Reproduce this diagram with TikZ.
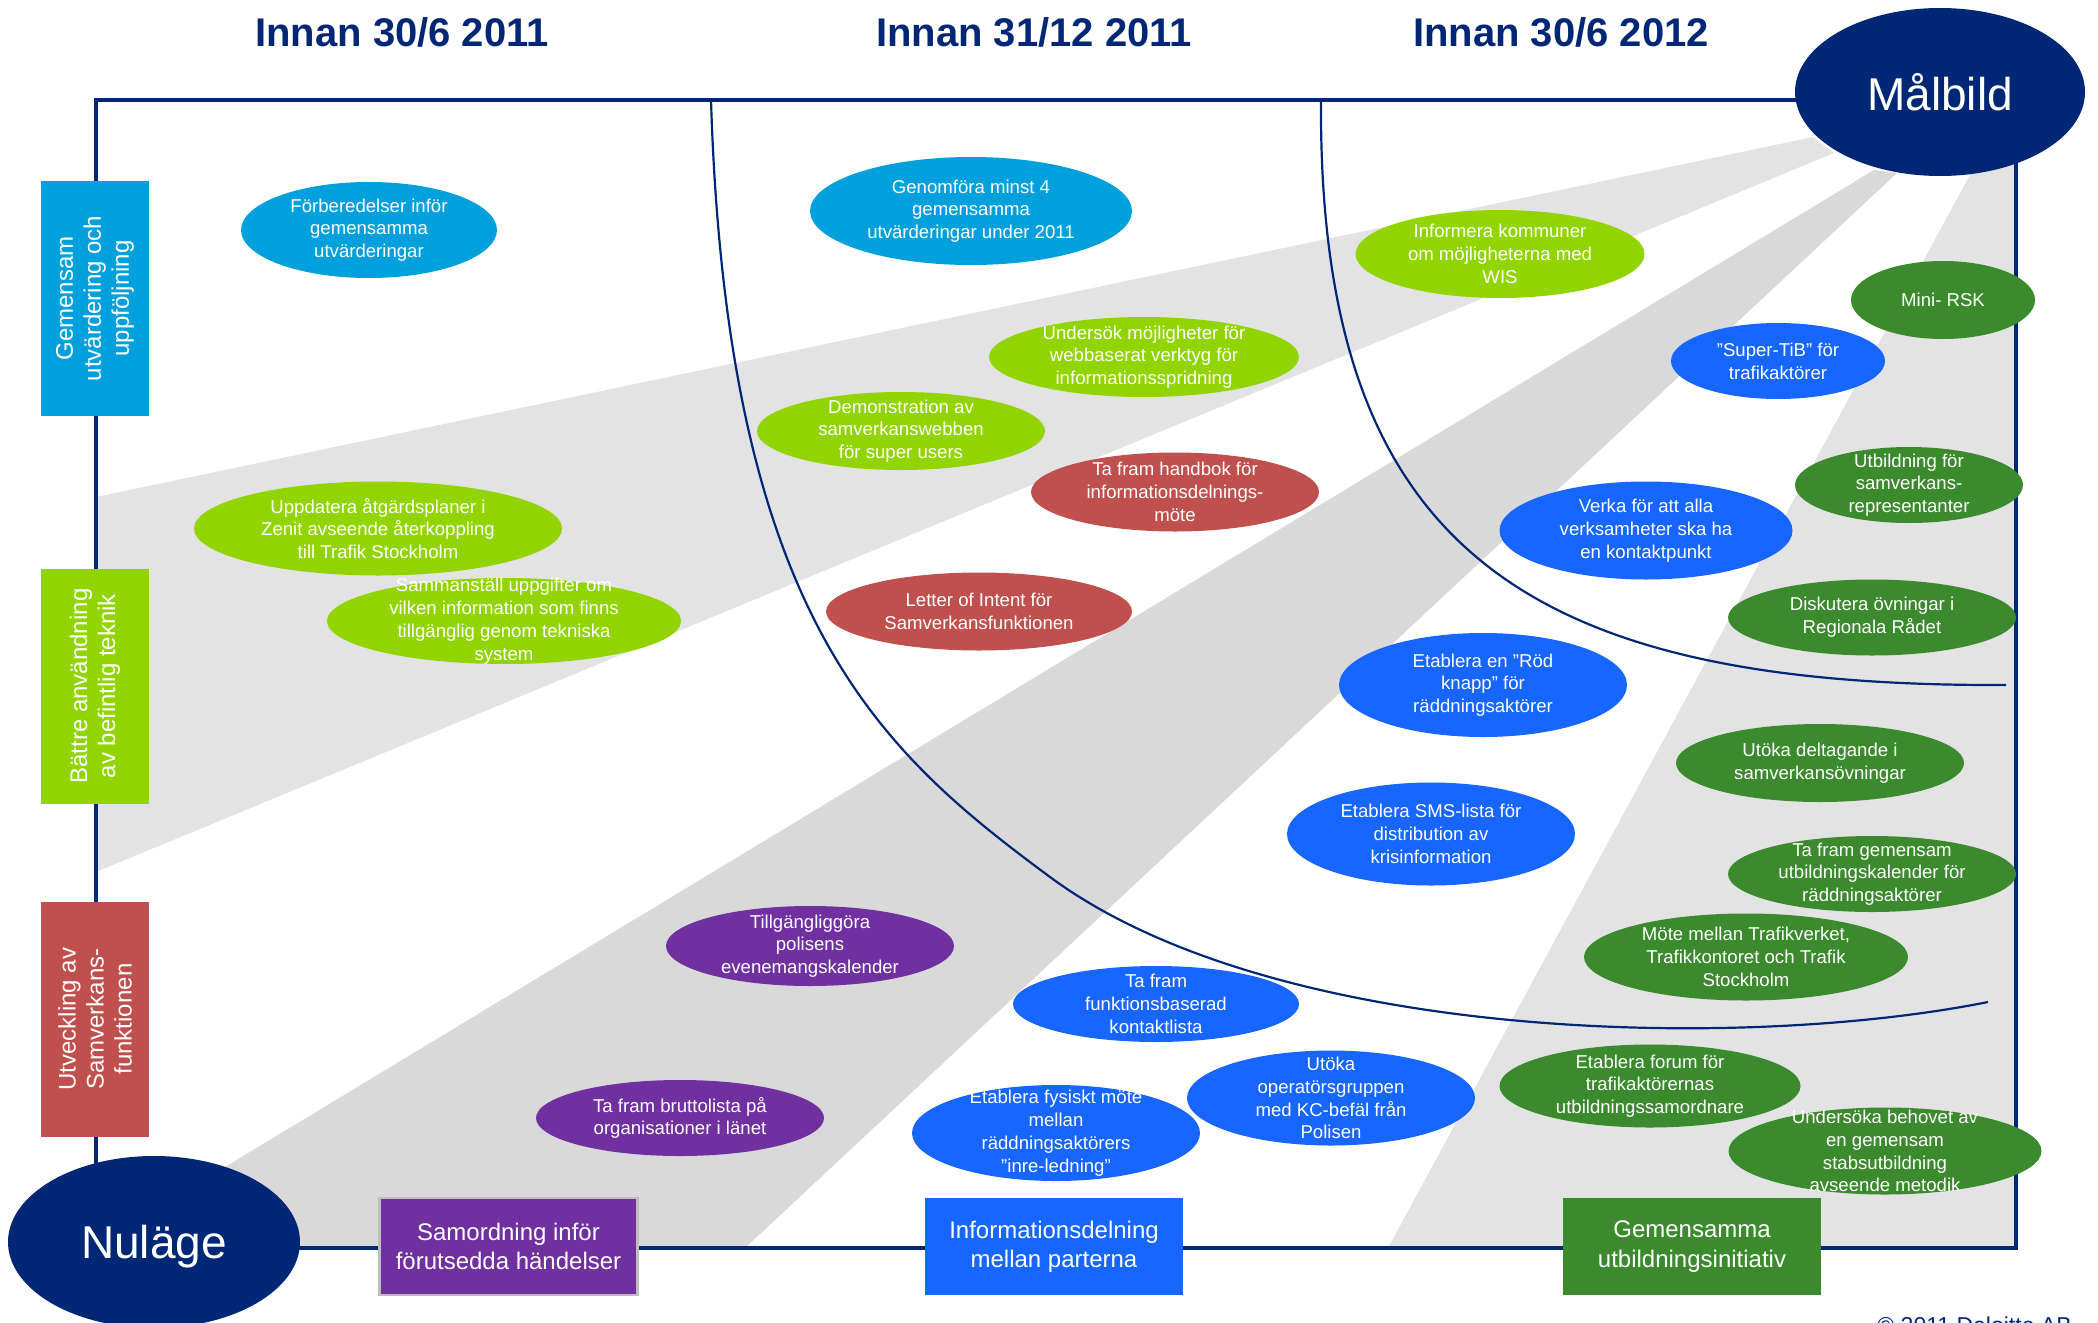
\documentclass[tikz,border=0pt]{standalone}
\usepackage{fontspec}
\setmainfont{Liberation Sans}
\usetikzlibrary{shapes.geometric}
\definecolor{navy}{RGB}{0,39,118}
\definecolor{cyanb}{RGB}{0,160,220}
\definecolor{limeg}{RGB}{146,212,0}
\definecolor{dgreen}{RGB}{60,138,46}
\definecolor{redc}{RGB}{192,80,77}
\definecolor{purp}{RGB}{112,48,160}
\definecolor{bblue}{RGB}{22,102,255}
\definecolor{bandA}{RGB}{227,227,227}
\definecolor{bandB}{RGB}{217,217,217}
\definecolor{boxedge}{RGB}{190,190,190}
\tikzset{
  oval/.style={ellipse, inner sep=0pt, draw=none},
  otext/.style={text=white, align=center, inner sep=0pt, font=\fontsize{9.3}{11.4}\selectfont},
  catbox/.style={rectangle, inner sep=0pt, text=white, align=center, font=\fontsize{12}{14.6}\selectfont},
  sidebox/.style={catbox, rotate=90, minimum width=117.5pt, minimum height=54pt, font=\fontsize{12}{14}\selectfont},
  bottombox/.style={catbox, minimum width=129pt, minimum height=48.5pt},
  titletext/.style={text=navy, inner sep=0pt, font=\bfseries\fontsize{20}{24}\selectfont},
  bigoval/.style={ellipse, inner sep=0pt, fill=navy, text=white, font=\fontsize{23}{27}\selectfont},
  frame/.style={draw=navy, line width=2.2pt},
  arcline/.style={draw=navy, line width=1.1pt},
}
\newcommand\ovalnode[7]{%
  \node[oval, fill=#6, minimum width=#4pt, minimum height=#5pt] (#1) at (#2,#3) {};
  \node[otext] at (#1.center) {#7};}
\begin{document}
\begin{tikzpicture}[x=0.5pt, y=-0.5pt]
\useasboundingbox (0,0) rectangle (2098,1322);
% bands
\fill[bandA] (1813,137) -- (96,497) -- (96,872) -- (1834,153) -- cycle;
\fill[bandB] (1874,170) -- (91,1248) -- (745,1248) -- (1897,173) -- cycle;
\fill[bandA] (1971,173) -- (1388,1248) -- (2016,1248) -- (2016,150) -- cycle;
% frame
\draw[frame] (96,100) rectangle (2016,1248);
% arcs
\draw[arcline] (711,100) .. controls (727,620) and (881,752) .. (1050,877)
  .. controls (1275,1043) and (1743,1051) .. (1988,1002);
\draw[arcline] (1321,100) .. controls (1318,550) and (1526,687) .. (2006,685);
% titles
\node[titletext] (t1) at (402,32) {Innan 30/6 2011};
\node[titletext] (t2) at (1034,32) {Innan 31/12 2011};
\node[titletext] (t3) at (1561,32) {Innan 30/6 2012};
% ovals
\ovalnode{e1}{369}{230}{128}{48}{cyanb}{Förberedelser inför\\gemensamma\\utvärderingar}
\ovalnode{e2}{971}{211}{161}{54}{cyanb}{Genomföra minst 4\\gemensamma\\utvärderingar under 2011}
\ovalnode{e3}{1500}{254}{144.5}{44}{limeg}{Informera kommuner\\om möjligheterna med\\WIS}
\ovalnode{e4}{1943}{300}{92}{39}{dgreen}{Mini- RSK}
\ovalnode{e5}{1778}{361}{107}{38}{bblue}{”Super-TiB” för\\trafikaktörer}
\ovalnode{e6}{1144}{357}{155}{40}{limeg}{Undersök möjligheter för\\webbaserat verktyg för\\informationsspridning}
\ovalnode{e7}{901}{431}{144}{39}{limeg}{Demonstration av\\samverkanswebben\\för super users}
\ovalnode{e8}{1175}{492}{144}{39.5}{redc}{Ta fram handbok för\\informationsdelnings-\\möte}
\ovalnode{e9}{378}{528.5}{184}{47}{limeg}{Uppdatera åtgärdsplaner i\\Zenit avseende återkoppling\\till Trafik Stockholm}
\ovalnode{e10}{1909}{485}{114}{38}{dgreen}{Utbildning för\\samverkans-\\representanter}
\ovalnode{e11}{1646}{530.5}{146.5}{49}{bblue}{Verka för att alla\\verksamheter ska ha\\en kontaktpunkt}
\ovalnode{e12}{504}{621}{177}{43}{limeg}{Sammanställ uppgifter om\\vilken information som finns\\tillgänglig genom tekniska\\system}
\ovalnode{e13}{979}{611.5}{153}{39}{redc}{Letter of Intent för\\Samverkansfunktionen}
\ovalnode{e14}{1872}{617.5}{144}{38}{dgreen}{Diskutera övningar i\\Regionala Rådet}
\ovalnode{e15}{1483}{685}{144}{52}{bblue}{Etablera en ”Röd\\knapp” för\\räddningsaktörer}
\ovalnode{e16}{1820}{763}{144}{39}{dgreen}{Utöka deltagande i\\samverkansövningar}
\ovalnode{e17}{1431}{834}{144}{51.5}{bblue}{Etablera SMS-lista för\\distribution av\\krisinformation}
\ovalnode{e18}{1872}{874}{144}{38}{dgreen}{Ta fram gemensam\\utbildningskalender för\\räddningsaktörer}
\ovalnode{e19}{810}{946}{144}{40}{purp}{Tillgängliggöra\\polisens\\evenemangskalender}
\ovalnode{e20}{1746}{957}{162}{43.5}{dgreen}{Möte mellan Trafikverket,\\Trafikkontoret och Trafik\\Stockholm}
\ovalnode{e21}{1156}{1004}{143}{38}{bblue}{Ta fram\\funktionsbaserad\\kontaktlista}
\ovalnode{e22}{1331}{1098}{144}{47.5}{bblue}{Utöka\\operatörsgruppen\\med KC-befäl från\\Polisen}
\ovalnode{e23}{1650}{1086}{150.5}{41.5}{dgreen}{Etablera forum för\\trafikaktörernas\\utbildningssamordnare}
\ovalnode{e24}{680}{1118}{144}{38}{purp}{Ta fram bruttolista på\\organisationer i länet}
\ovalnode{e25}{1056}{1133}{144}{48}{bblue}{Etablera fysiskt möte\\mellan\\räddningsaktörers\\”inre-ledning”}
\ovalnode{e26}{1885}{1151}{156.5}{43.5}{dgreen}{Undersöka behovet av\\en gemensam\\stabsutbildning\\avseende metodik}
% side boxes
\node[sidebox, fill=cyanb] (s1) at (95,298.5) {Gemensam\\utvärdering och\\uppföljning};
\node[sidebox, fill=limeg] (s2) at (95,686) {Bättre användning\\av befintlig teknik};
\node[sidebox, fill=redc] (s3) at (95,1019) {Utveckling av\\Samverkans-\\funktionen};
% bottom boxes
\node[bottombox, fill=purp, draw=boxedge, line width=1.2pt] (b1) at (508.5,1246.5) {Samordning inför\\förutsedda händelser};
\node[bottombox, fill=bblue] (b2) at (1054,1246.5) {Informationsdelning\\mellan parterna};
\node[bottombox, fill=dgreen] (b3) at (1692,1246.5) {Gemensamma\\utbildningsinitiativ};
% end states
\node[bigoval, minimum width=145pt, minimum height=84pt] (malbild) at (1940,92) {Målbild};
\node[bigoval, minimum width=146pt, minimum height=86pt, text depth=0pt] (nulage) at (154,1242) {Nuläge};
% copyright (cut off at the lower edge, as in the reference)
\node[anchor=north west, inner sep=0pt, text=navy, font=\fontsize{11.5}{13}\selectfont] (copy) at (1877,1316) {© 2011 Deloitte AB};
\end{tikzpicture}
\end{document}
